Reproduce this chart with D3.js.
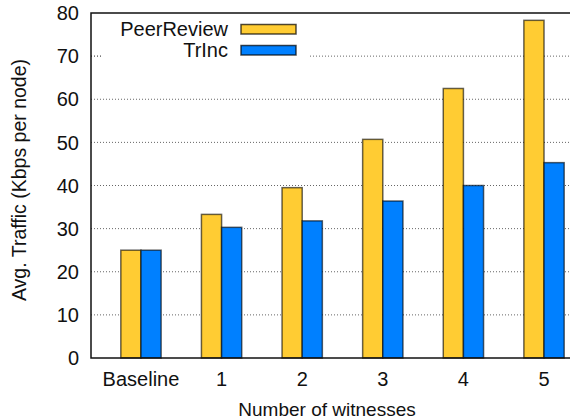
<!DOCTYPE html>
<html>
<head>
<meta charset="utf-8">
<script src="https://cdn.jsdelivr.net/npm/d3@7/dist/d3.min.js"></script>
<style>
  html, body { margin: 0; padding: 0; background: #fff; }
  svg { display: block; font-family: "Liberation Sans", Arial, sans-serif; }
</style>
</head>
<body>
<div id="chart"></div>
<script>
// Data
const categories = ['Baseline', '1', '2', '3', '4', '5'];
const seriesNames = ['PeerReview', 'TrInc'];
const peerReview = [25, 33.3, 39.5, 50.7, 62.5, 78.3];
const trInc = [25, 30.3, 31.8, 36.4, 40.0, 45.3];
const yTicks = [0, 10, 20, 30, 40, 50, 60, 70, 80];

const colors = ['#ffcc33', '#0080ff'];
const width = 570, height = 420;
const margin = { left: 91, top: 13, bottom: 62 };
const plotRight = 594; // frame runs past the cropped right edge

const svg = d3.select('#chart')
    .append('svg')
    .attr('width', width)
    .attr('height', height);

const x = d3.scaleLinear()
    .domain([-0.62, categories.length - 0.38])
    .range([margin.left, plotRight]);

const y = d3.scaleLinear()
    .domain([0, 80])
    .range([height - margin.bottom, margin.top]);

const barW = x(0.25) - x(0);

// Grid lines
svg.append('g')
    .selectAll('line')
    .data(yTicks.filter(d => d > 0 && d < 80))
    .join('line')
    .attr('x1', margin.left)
    .attr('x2', plotRight)
    .attr('y1', d => y(d))
    .attr('y2', d => y(d))
    .attr('stroke', '#666')
    .attr('stroke-width', 1)
    .attr('stroke-dasharray', '1,2');

// Bars
const series = [peerReview, trInc];
series.forEach((vals, s) => {
    svg.append('g')
        .selectAll('rect')
        .data(vals)
        .join('rect')
        .attr('x', (d, i) => x(i) + (s - 1) * barW)
        .attr('y', d => y(d))
        .attr('width', barW)
        .attr('height', d => y(0) - y(d))
        .attr('fill', colors[s])
        .attr('stroke', '#000')
        .attr('stroke-opacity', 0.6)
        .attr('stroke-width', 1.5);
});

// Legend (white box hides the grid behind it)
const legend = svg.append('g');
legend.append('rect')
    .attr('x', 103).attr('y', margin.top + 1)
    .attr('width', 206).attr('height', 48)
    .attr('fill', '#fff');

seriesNames.forEach((name, s) => {
    const cy = 29 + s * 21;
    legend.append('text')
        .attr('x', 228)
        .attr('y', cy)
        .attr('dy', '0.35em')
        .attr('text-anchor', 'end')
        .attr('font-size', 20)
        .attr('fill', '#111')
        .text(name);
    legend.append('rect')
        .attr('x', 241).attr('y', cy - 4.5)
        .attr('width', 55).attr('height', 9.5)
        .attr('fill', colors[s])
        .attr('stroke', '#000')
        .attr('stroke-opacity', 0.7)
        .attr('stroke-width', 1.5);
});

// Short tick at 70 on the left (rest hidden under grid)
svg.append('line')
    .attr('x1', margin.left).attr('x2', margin.left + 12)
    .attr('y1', y(70)).attr('y2', y(70))
    .attr('stroke', '#666')
    .attr('stroke-dasharray', '1,2');

// Frame
svg.append('rect')
    .attr('x', margin.left)
    .attr('y', margin.top)
    .attr('width', plotRight - margin.left)
    .attr('height', y(0) - margin.top)
    .attr('fill', 'none')
    .attr('stroke', '#111')
    .attr('stroke-width', 1.5);

// Y tick labels
svg.append('g')
    .selectAll('text')
    .data(yTicks)
    .join('text')
    .attr('x', 79)
    .attr('y', d => y(d))
    .attr('dy', '0.36em')
    .attr('text-anchor', 'end')
    .attr('font-size', 20)
    .attr('fill', '#111')
    .text(d => d);

// X tick labels
svg.append('g')
    .selectAll('text')
    .data(categories)
    .join('text')
    .attr('x', (d, i) => x(i))
    .attr('y', 386)
    .attr('text-anchor', 'middle')
    .attr('font-size', 20)
    .attr('fill', '#111')
    .text(d => d);

// Axis titles
svg.append('text')
    .attr('x', 327)
    .attr('y', 416)
    .attr('text-anchor', 'middle')
    .attr('font-size', 19)
    .attr('fill', '#111')
    .text('Number of witnesses');

svg.append('text')
    .attr('transform', 'translate(26,180) rotate(-90)')
    .attr('text-anchor', 'middle')
    .attr('font-size', 19.5)
    .attr('fill', '#111')
    .text('Avg. Traffic (Kbps per node)');
</script>
</body>
</html>
